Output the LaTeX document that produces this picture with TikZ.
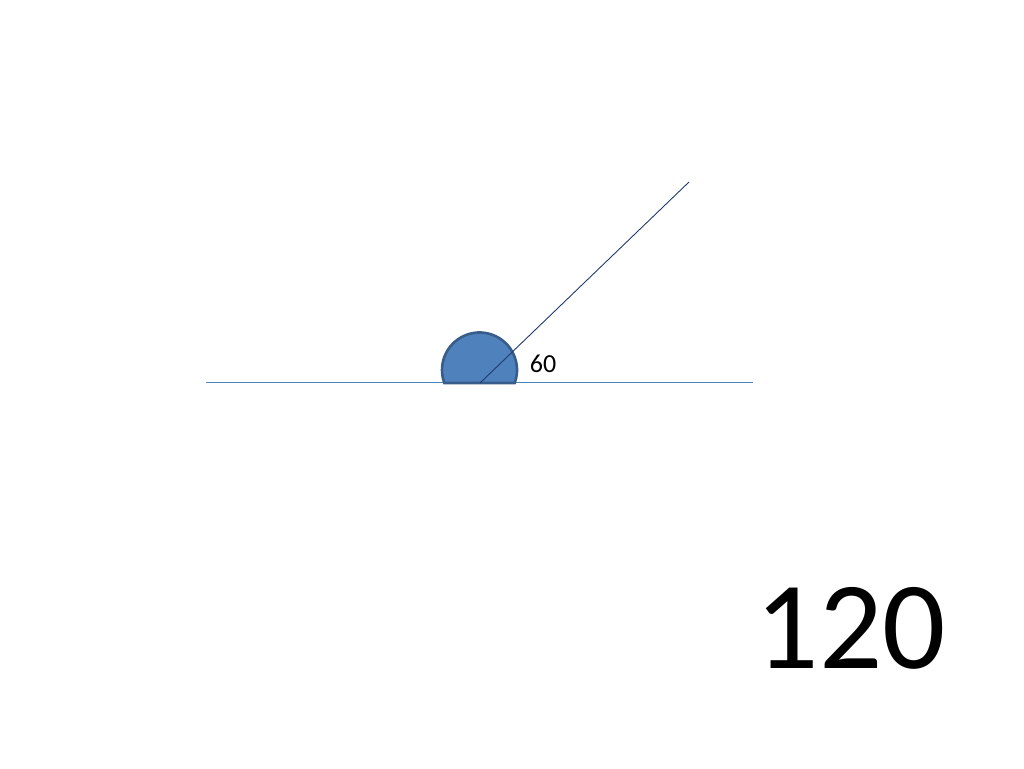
\documentclass[tikz,border=0pt]{standalone}
\usepackage{fontspec}
\setmainfont{Carlito}
\definecolor{lineblue}{HTML}{4F81BD}
\definecolor{raynavy}{HTML}{1F3A6E}
\definecolor{edgeblue}{HTML}{385D8A}

\begin{document}
\begin{tikzpicture}[x=1pt,y=1pt]
    \useasboundingbox (0,0) rectangle (1024,768);
    \coordinate (O) at (480,385);
    \coordinate (L) at (206,385);
    \coordinate (R) at (753,385);
    \coordinate (P) at (689,586);
    \draw[lineblue, line width=1pt] (L) -- (R);
    \draw[fill=lineblue, draw=edgeblue, line width=2.6pt] (479.5,398) ++(-20.3:37.5) arc[start angle=-20.3, end angle=200.3, radius=37.5] -- cycle;
    \draw[raynavy, line width=0.9pt] (O) -- (P);
    \node[inner sep=0, font=\fontsize{26}{30}\selectfont] (small) at (543,404.5) {60};
    \node[inner sep=0, font=\fontsize{125}{130}\selectfont] (big) at (851,140) {120};
\end{tikzpicture}
\end{document}
